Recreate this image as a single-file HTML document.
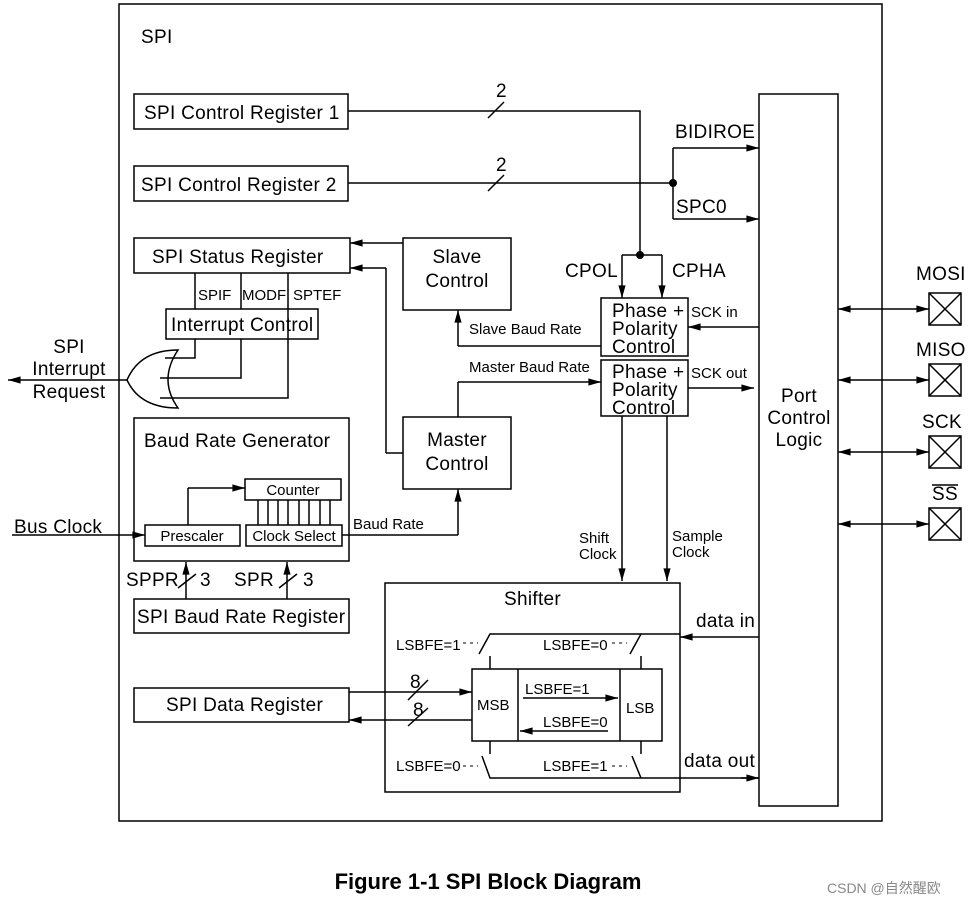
<!DOCTYPE html>
<html><head><meta charset="utf-8"><style>
html,body{margin:0;padding:0;background:#fff}
text{font-family:"Liberation Sans",Arial,sans-serif;fill:#000}
</style></head><body>
<svg width="977" height="906" viewBox="0 0 977 906" xmlns="http://www.w3.org/2000/svg">
<defs>
<marker id="a" viewBox="0 0 14 10" refX="14" refY="5" markerWidth="14" markerHeight="9" markerUnits="userSpaceOnUse" orient="auto-start-reverse"><path d="M0,1 L14,5 L0,9 Z" fill="#000"/></marker>
</defs>
<g fill="none" stroke="#000" stroke-width="1.5">
<rect x="119" y="4" width="763" height="817"/>
<rect x="759" y="94" width="79" height="712"/>
<rect x="134" y="94" width="214" height="35"/>
<rect x="134" y="166" width="214" height="35"/>
<rect x="134" y="238" width="216" height="35"/>
<rect x="166" y="309" width="152" height="30"/>
<rect x="403" y="238" width="108" height="72"/>
<rect x="403" y="417" width="108" height="72"/>
<rect x="134" y="418" width="215" height="143"/>
<rect x="245" y="479" width="96" height="21"/>
<rect x="145" y="525" width="95" height="21"/>
<rect x="246" y="525" width="96" height="21"/>
<rect x="134" y="599" width="215" height="34"/>
<rect x="601" y="298" width="87" height="58"/>
<rect x="601" y="360" width="87" height="56"/>
<rect x="385" y="583" width="295" height="209"/>
<rect x="472" y="669" width="190" height="72"/>
<line x1="518" y1="669" x2="518" y2="741"/><line x1="620" y1="669" x2="620" y2="741"/>
<rect x="134" y="688" width="215" height="34"/>
<g>
<rect x="929" y="293" width="32" height="32"/><path d="M929,293 L961,325 M961,293 L929,325"/>
<rect x="929" y="364" width="32" height="32"/><path d="M929,364 L961,396 M961,364 L929,396"/>
<rect x="929" y="436" width="32" height="32"/><path d="M929,436 L961,468 M961,436 L929,468"/>
<rect x="929" y="508" width="32" height="32"/><path d="M929,508 L961,540 M961,508 L929,540"/>
</g>
<line x1="838" y1="309" x2="929" y2="309" marker-start="url(#a)" marker-end="url(#a)"/>
<line x1="838" y1="380" x2="929" y2="380" marker-start="url(#a)" marker-end="url(#a)"/>
<line x1="838" y1="452" x2="929" y2="452" marker-start="url(#a)" marker-end="url(#a)"/>
<line x1="838" y1="524" x2="929" y2="524" marker-start="url(#a)" marker-end="url(#a)"/>
<path d="M348,111 L640,111 L640,255"/>
<path d="M488,118 L504,102"/>
<path d="M622,255 L662,255"/>
<line x1="622" y1="255" x2="622" y2="298" marker-end="url(#a)"/>
<line x1="662" y1="255" x2="662" y2="298" marker-end="url(#a)"/>
<path d="M348,183 L673,183"/>
<path d="M488,191 L504,175"/>
<path d="M673,148 L673,219"/>
<line x1="673" y1="148" x2="759" y2="148" marker-end="url(#a)"/>
<line x1="673" y1="219" x2="759" y2="219" marker-end="url(#a)"/>
<line x1="403" y1="243" x2="350" y2="243" marker-end="url(#a)"/>
<path d="M386,453 L403,453 M386,453 L386,268"/>
<line x1="386" y1="268" x2="350" y2="268" marker-end="url(#a)"/>
<path d="M601,346 L458,346"/>
<line x1="458" y1="346" x2="458" y2="310" marker-end="url(#a)"/>
<path d="M458,417 L458,382"/>
<line x1="458" y1="382" x2="601" y2="382" marker-end="url(#a)"/>
<line x1="759" y1="327" x2="688" y2="327" marker-end="url(#a)"/>
<line x1="688" y1="388" x2="754" y2="388" marker-end="url(#a)"/>
<line x1="622" y1="416" x2="622" y2="581" marker-end="url(#a)"/>
<line x1="667" y1="416" x2="667" y2="581" marker-end="url(#a)"/>
<path d="M342,535 L458,535"/>
<line x1="458" y1="535" x2="458" y2="489" marker-end="url(#a)"/>
<line x1="12" y1="535" x2="145" y2="535" marker-end="url(#a)"/>
<path d="M188,525 L188,488"/>
<line x1="188" y1="488" x2="245" y2="488" marker-end="url(#a)"/>
<path d="M258,500V525M268,500V525M278,500V525M288,500V525M299,500V525M309,500V525M320,500V525M330,500V525"/>
<line x1="186" y1="599" x2="186" y2="562" marker-end="url(#a)"/>
<line x1="287" y1="599" x2="287" y2="562" marker-end="url(#a)"/>
<path d="M178,588 L196,574 M279,588 L297,574"/>
<path d="M195,273 V309 M241,273 V309 M288,273 V398 L160,398 M195,339 V358 L165,358 M241,339 V378 L160,378"/>
<path d="M178,350 Q140,350 127,380 Q140,408 178,408 Q158,380 178,350 Z"/>
<line x1="127" y1="380" x2="8" y2="380" marker-end="url(#a)"/>
<line x1="349" y1="692" x2="472" y2="692" marker-end="url(#a)"/>
<line x1="472" y1="720" x2="349" y2="720" marker-end="url(#a)"/>
<path d="M408,700 L428,680 M408,726 L428,708"/>
<line x1="523" y1="698" x2="618" y2="698" marker-end="url(#a)"/>
<line x1="608" y1="731" x2="520" y2="731" marker-end="url(#a)"/>
<path d="M490,656 V669 M641,656 V669 M490,741 V754 M641,741 V754"/>
<path d="M479,654 L490,634 L680,634 M630,654 L641,634"/>
<path d="M482,756 L490,778 L759,778"/>
<path d="M632,756 L641,778"/>
<line x1="759" y1="637" x2="680" y2="637" marker-end="url(#a)"/>
<line x1="741" y1="778" x2="759" y2="778" marker-end="url(#a)"/>
<path d="M463,643 H478 M612,643 H627 M463,766 H478 M612,766 H627" stroke-dasharray="3 4" stroke-width="1"/>
</g>
<circle cx="640" cy="255" r="4"/>
<circle cx="673" cy="183" r="4"/>
<g font-size="19" letter-spacing="0.3">
<text x="141" y="43">SPI</text>
<text x="144" y="119">SPI Control Register 1</text>
<text x="141" y="191">SPI Control Register 2</text>
<text x="152" y="263">SPI Status Register</text>
<text x="171" y="331">Interrupt Control</text>
<text x="457" y="263" text-anchor="middle">Slave</text>
<text x="457" y="287" text-anchor="middle">Control</text>
<text x="457" y="446" text-anchor="middle">Master</text>
<text x="457" y="470" text-anchor="middle">Control</text>
<text x="144" y="447">Baud Rate Generator</text>
<text x="137" y="623">SPI Baud Rate Register</text>
<text x="166" y="711">SPI Data Register</text>
<text x="799" y="402" text-anchor="middle">Port</text>
<text x="799" y="424" text-anchor="middle">Control</text>
<text x="799" y="446" text-anchor="middle">Logic</text>
<text x="916" y="280">MOSI</text>
<text x="916" y="356">MISO</text>
<text x="922" y="428">SCK</text>
<text x="932" y="500">SS</text>
<text x="69" y="353" text-anchor="middle">SPI</text>
<text x="69" y="375" text-anchor="middle">Interrupt</text>
<text x="69" y="398" text-anchor="middle">Request</text>
<text x="14" y="533">Bus Clock</text>
<text x="675" y="138">BIDIROE</text>
<text x="676" y="213">SPC0</text>
<text x="565" y="277">CPOL</text>
<text x="672" y="277">CPHA</text>
<text x="612" y="317">Phase +</text>
<text x="612" y="335">Polarity</text>
<text x="612" y="353">Control</text>
<text x="612" y="378">Phase +</text>
<text x="612" y="396">Polarity</text>
<text x="612" y="414">Control</text>
<text x="496" y="97">2</text>
<text x="496" y="171">2</text>
<text x="504" y="605">Shifter</text>
<text x="696" y="627">data in</text>
<text x="684" y="767">data out</text>
<text x="126" y="586">SPPR</text>
<text x="200" y="586">3</text>
<text x="234" y="586">SPR</text>
<text x="303" y="586">3</text>
<text x="410" y="688">8</text>
<text x="413" y="716">8</text>
</g>
<line x1="932" y1="485" x2="958" y2="485" stroke="#000" stroke-width="1.5"/>
<g font-size="15">
<text x="198" y="300">SPIF</text>
<text x="242" y="300">MODF</text>
<text x="293" y="300">SPTEF</text>
<text x="293" y="495" text-anchor="middle">Counter</text>
<text x="192" y="541" text-anchor="middle">Prescaler</text>
<text x="294" y="541" text-anchor="middle">Clock Select</text>
<text x="353" y="529">Baud Rate</text>
<text x="469" y="334">Slave Baud Rate</text>
<text x="469" y="372">Master Baud Rate</text>
<text x="691" y="317">SCK in</text>
<text x="691" y="378">SCK out</text>
<text x="579" y="543">Shift</text>
<text x="579" y="559">Clock</text>
<text x="672" y="541">Sample</text>
<text x="672" y="557">Clock</text>
<text x="396" y="650">LSBFE=1</text>
<text x="543" y="650">LSBFE=0</text>
<text x="396" y="771">LSBFE=0</text>
<text x="543" y="771">LSBFE=1</text>
<text x="525" y="694">LSBFE=1</text>
<text x="543" y="727">LSBFE=0</text>
<text x="477" y="710">MSB</text>
<text x="626" y="713">LSB</text>
</g>
<text x="488" y="889" font-size="22" font-weight="bold" text-anchor="middle">Figure 1-1  SPI Block Diagram</text>
<text x="827" y="893" font-size="14" style="fill:#888;font-family:'Liberation Sans','Noto Sans CJK SC',sans-serif">CSDN @自然醒欧</text>
</svg>
</body></html>
